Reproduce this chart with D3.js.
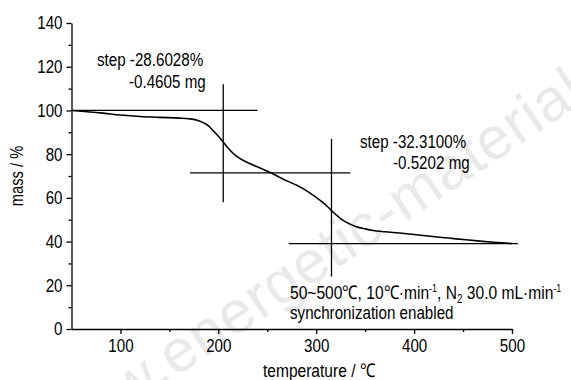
<!DOCTYPE html>
<html>
<head>
<meta charset="utf-8">
<script src="https://d3js.org/d3.v7.min.js"></script>
<style>
  body { margin: 0; background: #fff; }
  svg { display: block; }
  text { font-family: "Liberation Sans", Arial, sans-serif; fill: #000; }
</style>
</head>
<body>
<svg id="chart"></svg>
<script>
  // TG curve
  const temps = [50, 60, 80, 100, 120, 140, 160, 170, 180, 185, 190, 195, 200, 205, 210, 215, 220, 225, 232, 239, 246, 253, 260, 266, 273, 280, 287, 293, 300, 307, 312, 316, 322, 327, 334, 341, 350, 358, 370, 385, 400, 419, 435, 453, 470, 481, 490, 500];
  const mass  = [100, 99.6, 98.9, 97.9, 97.2, 96.8, 96.5, 96.2, 95.3, 94.3, 92.9, 90.6, 88.2, 85.6, 82.8, 80.4, 78.6, 77.2, 75.7, 74.3, 73.0, 71.6, 70.0, 68.6, 67.2, 65.8, 64.1, 62.4, 60.2, 57.8, 55.8, 54.0, 51.6, 49.8, 48.1, 46.8, 45.8, 45.1, 44.5, 43.9, 43.2, 42.3, 41.6, 40.8, 40.1, 39.7, 39.4, 39.1];

  // step evaluation lines (data units)
  const stepLevels = [100, 71.4, 39.09];
  const stepLevelFrom = [50, 171, 272];
  const stepLevelTo = [240, 335, 506];
  const stepMidT = [205, 315.6];
  const stepMidLow = [58, 24];
  const stepMidHigh = [112, 87];

  const stepLabels = [["step -28.6028%", "-0.4605 mg"], ["step -32.3100%", "-0.5202 mg"]];

  const xTicks = [100, 200, 300, 400, 500];
  const yTicks = [0, 20, 40, 60, 80, 100, 120, 140];

  const W = 571, H = 380;
  const NARROW = 0.82; // the original uses a narrow face
  const svg = d3.select('#chart').attr('width', W).attr('height', H);

  const x = d3.scaleLinear().domain([50, 500]).range([71.5, 512]);
  const y = d3.scaleLinear().domain([0, 140]).range([329, 23]);

  function label(px, py, str, size) {
    return svg.append('text')
      .attr('transform', `translate(${px},${py}) scale(${NARROW},1)`)
      .style('font-size', size + 'px')
      .text(str);
  }

  // watermark
  svg.append('text')
     .attr('transform', 'translate(53,460) rotate(-34)')
     .style('font-size', '60px')
     .style('fill', '#e9e9e9')
     .style('letter-spacing', '1px')
     .text('www.energetic-materials.com');

  // axes
  svg.append('g').attr('class', 'xaxis').attr('transform', `translate(0,${y(0)})`)
     .call(d3.axisBottom(x).tickValues(xTicks).tickSize(5).tickPadding(5).tickSizeOuter(0));
  svg.append('g').attr('transform', `translate(0,${y(0)})`)
     .call(d3.axisBottom(x).tickValues([150, 250, 350, 450]).tickSize(3).tickFormat('').tickSizeOuter(0))
     .select('.domain').remove();

  svg.append('g').attr('class', 'yaxis').attr('transform', `translate(${x(50)},0)`)
     .call(d3.axisLeft(y).tickValues(yTicks).tickSize(5).tickPadding(4).tickSizeOuter(0));
  svg.append('g').attr('transform', `translate(${x(50)},0)`)
     .call(d3.axisLeft(y).tickValues([10, 30, 50, 70, 90, 110, 130]).tickSize(3).tickFormat('').tickSizeOuter(0))
     .select('.domain').remove();

  svg.selectAll('.domain, .tick line').attr('stroke', '#000').attr('stroke-width', 1.3);
  svg.selectAll('.tick text').style('font-size', '18.5px').attr('font-family', null)
     .attr('transform', `scale(${NARROW},1)`);
  svg.selectAll('.yaxis .tick text').attr('x', -9 / NARROW);

  // axis titles
  label(319, 377, 'temperature / ℃', 19).attr('text-anchor', 'middle');
  svg.append('text')
     .attr('transform', `translate(23,176) rotate(-90) scale(${NARROW},1)`)
     .attr('text-anchor', 'middle')
     .style('font-size', '18px')
     .text('mass / %');

  // step lines
  svg.append('g').selectAll('line')
     .data(stepLevels)
     .join('line')
       .attr('x1', (d, i) => x(stepLevelFrom[i]))
       .attr('x2', (d, i) => x(stepLevelTo[i]))
       .attr('y1', d => y(d))
       .attr('y2', d => y(d))
       .attr('stroke', '#000').attr('stroke-width', 1.3);
  svg.append('g').selectAll('line')
     .data(stepMidT)
     .join('line')
       .attr('x1', d => x(d))
       .attr('x2', d => x(d))
       .attr('y1', (d, i) => y(stepMidLow[i]))
       .attr('y2', (d, i) => y(stepMidHigh[i]))
       .attr('stroke', '#000').attr('stroke-width', 1.3);

  // curve
  const pts = temps.map((t, i) => [t, mass[i]]);
  svg.append('path')
     .datum(pts)
     .attr('fill', 'none')
     .attr('stroke', '#000')
     .attr('stroke-width', 1.6)
     .attr('d', d3.line().x(d => x(d[0])).y(d => y(d[1])).curve(d3.curveMonotoneX));

  // step annotations
  const labelPos = [[97, 66, 129, 88], [360, 148, 393, 169]];
  stepLabels.forEach((lab, i) => {
    const p = labelPos[i];
    label(p[0], p[1], lab[0], 18.5);
    label(p[2], p[3], lab[1], 18.5);
  });

  // conditions
  const cond = label(290, 299, '', 19);
  cond.append('tspan').text('50~500℃, 10℃·min');
  cond.append('tspan').attr('dy', -7).style('font-size', '11px').text('-1');
  cond.append('tspan').attr('dy', 7).text(', N');
  cond.append('tspan').attr('dy', 4).style('font-size', '12px').text('2');
  cond.append('tspan').attr('dy', -4).text(' 30.0 mL·min');
  cond.append('tspan').attr('dy', -7).style('font-size', '11px').text('-1');
  label(290, 319, 'synchronization enabled', 18.5);
</script>
</body>
</html>
